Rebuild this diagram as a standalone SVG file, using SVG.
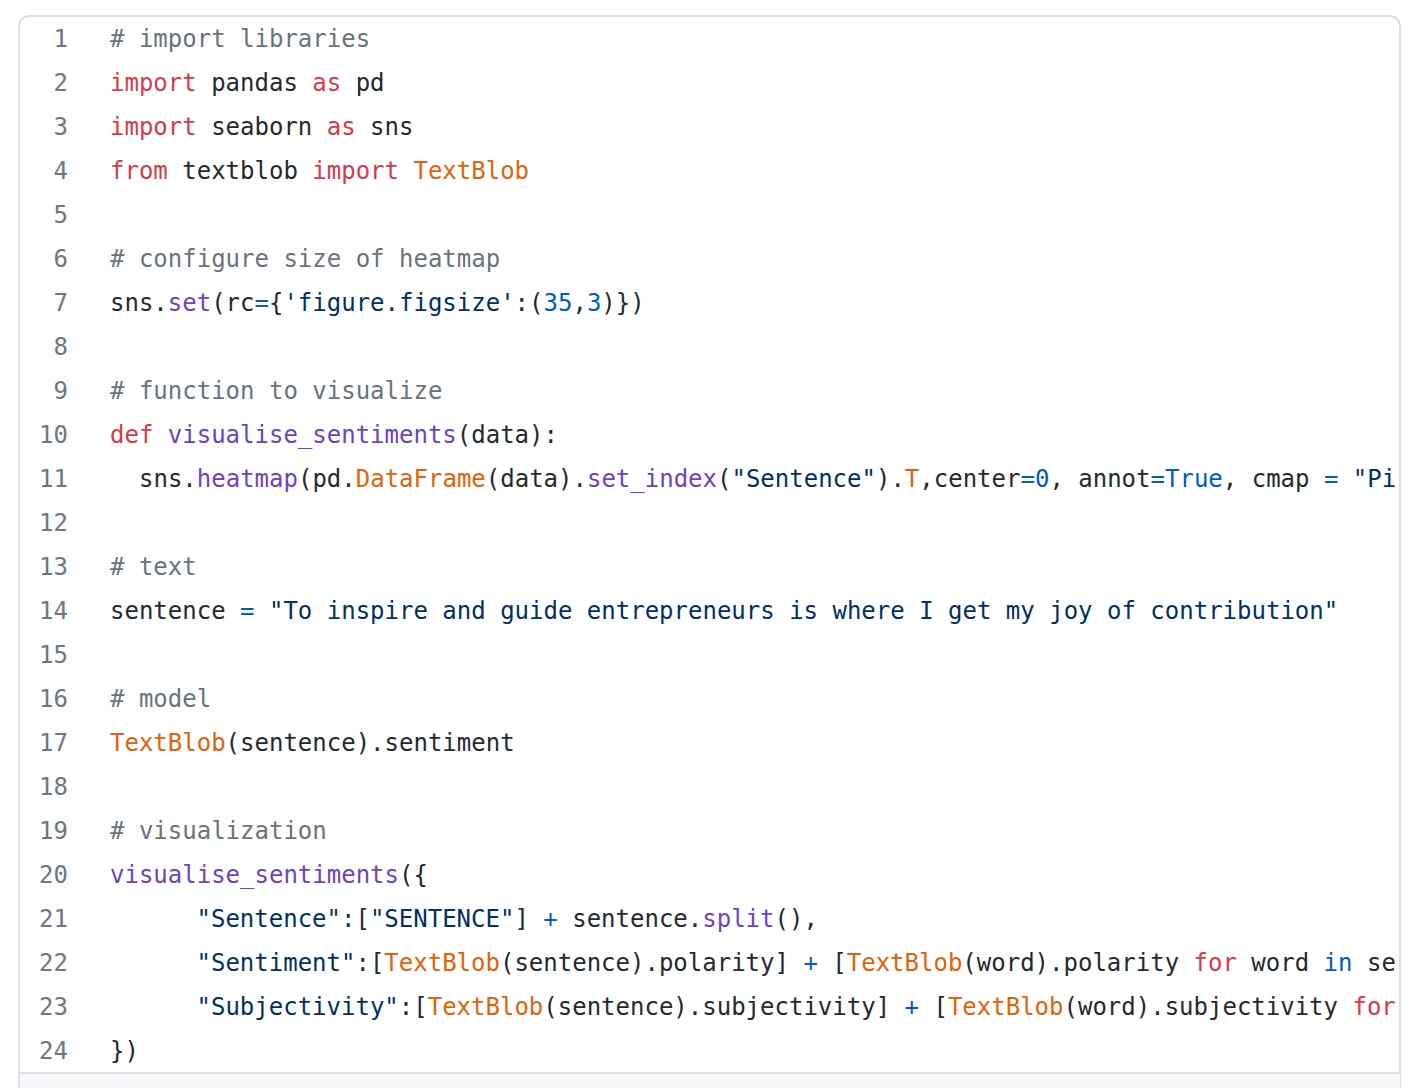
<svg xmlns="http://www.w3.org/2000/svg" width="1418" height="1088" viewBox="0 0 1418 1088">
<style>
text{font-family:"DejaVu Sans Mono","Liberation Mono",monospace;font-size:24px;fill:#24292e}
.n{fill:#6e7781;text-anchor:end}
.c{fill:#6a737d}.k{fill:#d73a49}.v{fill:#e36209}.f{fill:#6f42c1}.s{fill:#032f62}.b{fill:#005cc5}
</style>
<defs><clipPath id="cl"><rect x="20" y="17" width="1380" height="1056"/></clipPath></defs>
<rect x="0" y="0" width="1418" height="1088" fill="#fff"/>
<rect x="19" y="16" width="1381" height="1100" rx="10" fill="#fff" stroke="#d0d7de" stroke-width="1.5"/>
<rect x="20" y="1073" width="1380" height="20" fill="#f6f8fa"/>
<line x1="19" y1="1073" x2="1400" y2="1073" stroke="#d0d7de" stroke-width="1.5"/>
<g id="numbers">
<text class="n" x="68" y="47">1</text><text class="n" x="68" y="91">2</text><text class="n" x="68" y="135">3</text><text class="n" x="68" y="179">4</text><text class="n" x="68" y="223">5</text><text class="n" x="68" y="267">6</text><text class="n" x="68" y="311">7</text><text class="n" x="68" y="355">8</text><text class="n" x="68" y="399">9</text><text class="n" x="68" y="443">10</text><text class="n" x="68" y="487">11</text><text class="n" x="68" y="531">12</text><text class="n" x="68" y="575">13</text><text class="n" x="68" y="619">14</text><text class="n" x="68" y="663">15</text><text class="n" x="68" y="707">16</text><text class="n" x="68" y="751">17</text><text class="n" x="68" y="795">18</text><text class="n" x="68" y="839">19</text><text class="n" x="68" y="883">20</text><text class="n" x="68" y="927">21</text><text class="n" x="68" y="971">22</text><text class="n" x="68" y="1015">23</text><text class="n" x="68" y="1059">24</text>
</g>
<g id="code" clip-path="url(#cl)" xml:space="preserve">
<text x="110" y="47" class="c"># import libraries</text>
<text x="110" y="91"><tspan class="k">import</tspan> pandas <tspan class="k">as</tspan> pd</text>
<text x="110" y="135"><tspan class="k">import</tspan> seaborn <tspan class="k">as</tspan> sns</text>
<text x="110" y="179"><tspan class="k">from</tspan> textblob <tspan class="k">import</tspan> <tspan class="v">TextBlob</tspan></text>
<text x="110" y="267" class="c"># configure size of heatmap</text>
<text x="110" y="311">sns.<tspan class="f">set</tspan>(rc<tspan class="b">=</tspan>{<tspan class="s">'figure.figsize'</tspan>:(<tspan class="b">35</tspan>,<tspan class="b">3</tspan>)})</text>
<text x="110" y="399" class="c"># function to visualize</text>
<text x="110" y="443"><tspan class="k">def</tspan> <tspan class="f">visualise_sentiments</tspan>(data):</text>
<text x="139" y="487">sns.<tspan class="f">heatmap</tspan>(pd.<tspan class="v">DataFrame</tspan>(data).<tspan class="f">set_index</tspan>(<tspan class="s">"Sentence"</tspan>).<tspan class="v">T</tspan>,center<tspan class="b">=0</tspan>, annot<tspan class="b">=True</tspan>, cmap <tspan class="b">=</tspan> <tspan class="s">"Pi</tspan></text>
<text x="110" y="575" class="c"># text</text>
<text x="110" y="619">sentence <tspan class="b">=</tspan> <tspan class="s">"To inspire and guide entrepreneurs is where I get my joy of contribution"</tspan></text>
<text x="110" y="707" class="c"># model</text>
<text x="110" y="751"><tspan class="v">TextBlob</tspan>(sentence).sentiment</text>
<text x="110" y="839" class="c"># visualization</text>
<text x="110" y="883"><tspan class="f">visualise_sentiments</tspan>({</text>
<text x="196.5" y="927"><tspan class="s">"Sentence"</tspan>:[<tspan class="s">"SENTENCE"</tspan>] <tspan class="b">+</tspan> sentence.<tspan class="f">split</tspan>(),</text>
<text x="196.5" y="971"><tspan class="s">"Sentiment"</tspan>:[<tspan class="v">TextBlob</tspan>(sentence).polarity] <tspan class="b">+</tspan> [<tspan class="v">TextBlob</tspan>(word).polarity <tspan class="k">for</tspan> word <tspan class="b">in</tspan> se</text>
<text x="196.5" y="1015"><tspan class="s">"Subjectivity"</tspan>:[<tspan class="v">TextBlob</tspan>(sentence).subjectivity] <tspan class="b">+</tspan> [<tspan class="v">TextBlob</tspan>(word).subjectivity <tspan class="k">for</tspan></text>
<text x="110" y="1059">})</text>
</g>
</svg>
